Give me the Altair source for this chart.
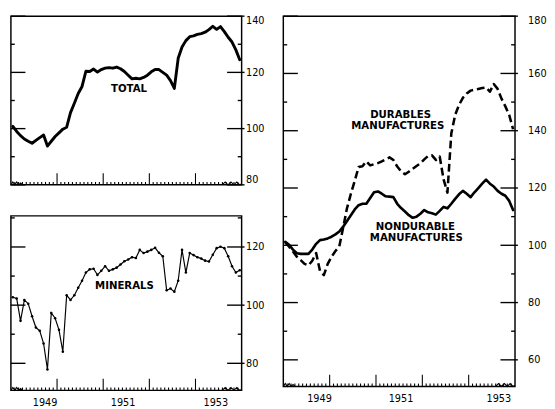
import altair as alt
import pandas as pd

# Monthly index values, Jan 1949 .. Dec 1953 (1947-49 = 100)
total = [100.8, 99.0, 97.5, 96.3, 95.5, 94.8, 95.8, 96.8, 97.7, 93.8, 95.5, 97.2,
         98.5, 99.8, 100.5, 105.7, 109.0, 112.5, 115.0, 120.4, 120.3, 121.2, 120.1, 121.0,
         121.5, 121.7, 121.5, 121.9, 121.3, 120.3, 119.0, 117.7, 117.9, 117.7, 118.2, 119.0,
         120.2, 121.0, 121.0, 120.0, 119.0, 117.1, 114.3, 125.0, 129.0, 131.3, 132.7, 133.0,
         133.5, 133.8, 134.3, 135.2, 136.4, 135.3, 136.3, 134.5, 132.5, 130.8, 128.0, 124.5]

minerals = [102.7, 102.3, 94.6, 101.8, 100.5, 96.2, 92.3, 91.2, 86.8, 77.9, 97.3, 95.5,
            91.5, 84.0, 103.4, 101.8, 103.4, 106.0, 108.4, 111.2, 112.3, 112.5, 110.4, 111.8,
            113.4, 111.8, 112.3, 112.9, 114.0, 115.1, 115.7, 116.5, 116.2, 119.0, 117.9, 118.4,
            119.0, 119.7, 118.0, 116.8, 105.1, 105.7, 104.6, 108.4, 119.0, 111.2, 117.9, 117.2,
            116.5, 116.0, 115.3, 115.0, 117.3, 119.6, 120.1, 119.6, 116.8, 113.4, 111.2, 112.0]

durables = [101.0, 99.5, 97.8, 96.0, 94.8, 93.5, 93.0, 94.6, 97.3, 91.0, 89.6, 93.5,
            96.0, 98.0, 99.6, 106.2, 113.0, 118.0, 122.5, 127.3, 127.6, 129.3, 127.9, 128.3,
            128.7, 129.3, 130.0, 130.7, 129.8, 127.5, 125.8, 124.8, 125.7, 126.7, 127.7, 128.6,
            130.0, 131.2, 131.4, 129.8, 131.0, 123.0, 118.4, 139.0, 145.5, 149.0, 151.5, 153.0,
            154.0, 154.3, 154.6, 154.9, 155.1, 153.6, 156.3, 154.6, 151.2, 148.5, 145.5, 140.5]

nondurables = [101.2, 100.2, 98.5, 97.2, 97.0, 97.0, 97.0, 98.5, 100.5, 101.8, 102.0, 102.4,
               103.0, 103.8, 104.8, 106.5, 108.5, 110.5, 112.5, 114.0, 114.5, 114.5, 116.5, 118.5,
               118.8, 118.0, 117.1, 117.0, 116.8, 114.5, 113.0, 111.8, 110.5, 109.6, 110.0, 111.0,
               112.3, 111.5, 111.2, 110.7, 112.0, 113.4, 112.9, 114.5, 116.2, 117.8, 119.0, 118.0,
               116.8, 118.5, 120.0, 121.5, 122.9, 121.5, 120.5, 119.0, 118.0, 117.3, 115.5, 112.3]

FONT = "DejaVu Sans"
XDOM = [1949.0, 1954.0]


def series_df(vals):
    return pd.DataFrame({"t": [1949 + (m + 0.5) / 12 for m in range(len(vals))], "v": vals})


def panel(lines, ydom, W, H, yvals, xlabels, texts, label_pad):
    xscale = alt.Scale(domain=XDOM, nice=False, zero=False)
    yscale = alt.Scale(domain=ydom, nice=False, zero=False)
    px_x = (XDOM[1] - XDOM[0]) / W
    px_y = (ydom[1] - ydom[0]) / H
    if xlabels:
        xaxis = alt.Axis(values=xlabels, labelExpr="format(floor(datum.value), 'd')",
                         ticks=False, domain=False, grid=False, labelPadding=8,
                         labelFont=FONT, labelFontSize=10, labelColor="black", title=None)
    else:
        xaxis = None
    yaxis = alt.Axis(orient="right", values=yvals, format="d", domain=False, grid=False,
                     ticks=False, labelPadding=label_pad, labelFlush=True,
                     labelFont=FONT, labelFontSize=10, labelColor="black", title=None)
    X = alt.X("t:Q", scale=xscale, axis=xaxis)
    Y = alt.Y("v:Q", scale=yscale, axis=yaxis)

    layers = []
    for df, style in lines:
        layers.append(alt.Chart(df).mark_line(**style).encode(x=X, y=Y))

    # inner tick marks on both vertical sides (long at multiples of 20)
    lo = int(-(-ydom[0] // 10) * 10)
    rows = []
    for v in range(lo, int(ydom[1]) + 1, 10):
        ln = 15 if v % 20 == 0 else 4
        out = 3 if v % 20 == 0 else 0
        rows.append({"v": float(v), "t": XDOM[0], "t2": XDOM[0] + ln * px_x})
        rows.append({"v": float(v), "t": XDOM[1] - ln * px_x, "t2": XDOM[1] + out * px_x})
    ytk = pd.DataFrame(rows)
    layers.append(alt.Chart(ytk).mark_rule(color="black", strokeWidth=1.4).encode(
        x=X, x2="t2:Q", y=Y))

    # bottom ticks: years long, months short
    rows = []
    for k in range(1, 60):
        ln = 12 if k % 12 == 0 else 3
        rows.append({"t": 1949 + k / 12, "v": ydom[0], "v2": ydom[0] + ln * px_y})
    xtk = pd.DataFrame(rows)
    layers.append(alt.Chart(xtk).mark_rule(color="black", strokeWidth=1.1).encode(
        x=X, y=Y, y2="v2:Q"))

    # axis-break squiggles at both ends of the time axis
    for xs, ys in (([0, 2, 4, 6, 8, 10, 12], [0, 3, 0, 3, 0, 2, 0]),
                   ([W - 20, W - 17, W - 14, W - 11, W - 8, W - 5, W - 2, W],
                    [0, 3, 0, 3, 0, 3, 0, 1])):
        sq = pd.DataFrame({"t": [XDOM[0] + x * px_x for x in xs],
                           "v": [ydom[0] + y * px_y for y in ys]})
        layers.append(alt.Chart(sq).mark_line(color="black", strokeWidth=1.1).encode(
            x=X, y=Y))

    if texts:
        tdf = pd.DataFrame(texts, columns=["t", "v", "label"])
        layers.append(alt.Chart(tdf).mark_text(font=FONT, fontSize=10.5, fontWeight="bold",
                                               color="black", align="center",
                                               baseline="middle").encode(
            x=X, y=Y, text="label:N"))

    return alt.layer(*layers).properties(width=W, height=H)


thick = dict(color="black", strokeWidth=3, strokeJoin="round", strokeCap="round")
top_left = panel([(series_df(total), thick)], [80, 140], 238, 174, [80, 100, 120, 140],
                 None, [(1951.56, 114, "TOTAL")], 4)

min_style = dict(color="black", strokeWidth=1.2,
                 point=alt.OverlayMarkDef(filled=True, size=7, color="black"))
bottom_left = panel([(series_df(minerals), min_style)], [70.7, 130.7], 238, 180,
                    [80, 100, 120], [1949.73, 1951.42, 1953.43],
                    [(1951.46, 106.7, "MINERALS")], 4)

dur_style = dict(color="black", strokeWidth=2.6, strokeDash=[8, 4], strokeJoin="round")
non_style = dict(color="black", strokeWidth=2.7, strokeJoin="round", strokeCap="round")
right = panel([(series_df(durables), dur_style), (series_df(nondurables), non_style)],
              [50.7, 180], 239, 382, [60, 80, 100, 120, 140, 160, 180],
              [1949.77, 1951.53, 1953.64],
              [(1951.53, 145.5, "DURABLES"), (1951.47, 141.5, "MANUFACTURES"),
               (1951.85, 106.2, "NONDURABLE"), (1951.87, 102.5, "MANUFACTURES")], 13)

left = alt.vconcat(top_left, bottom_left, spacing=28)
chart = alt.hconcat(left, right, spacing=16).properties(
    padding={"left": 0, "top": 0, "right": 0, "bottom": 0}, background="white"
).configure_view(stroke="black", strokeWidth=1.5)

chart.save("out.html", embed_options={"renderer": "svg", "actions": False})
